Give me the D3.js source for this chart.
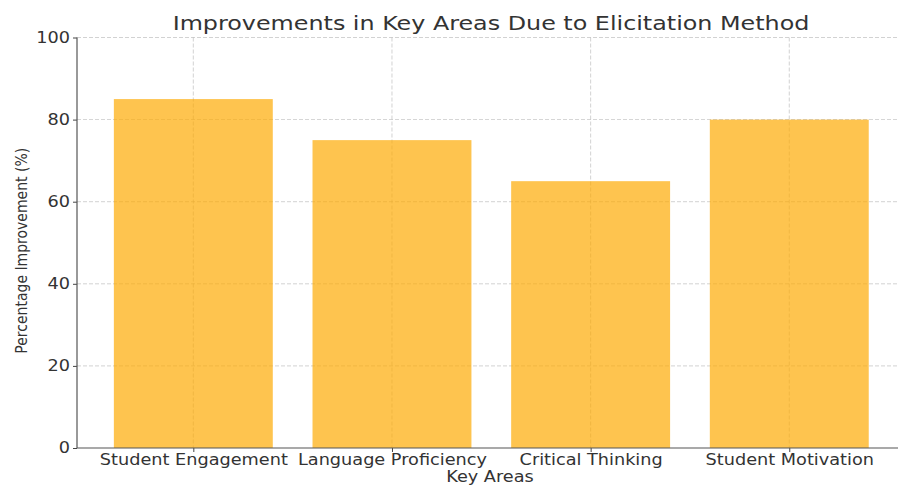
<!DOCTYPE html>
<html><head><meta charset="utf-8">
<script src="https://cdn.jsdelivr.net/npm/d3@7"></script>
<style>body{margin:0;background:#fff}svg{display:block}text{font-family:"DejaVu Sans",sans-serif}</style>
</head><body><svg id="c" width="898" height="486"></svg>
<script>
const categories = ["Student Engagement","Language Proficiency","Critical Thinking","Student Motivation"];
const improvements = [85, 75, 65, 80];
const yTicks = [0, 20, 40, 60, 80, 100];

const svg = d3.select("#c");
const W = 898, H = 486;
const axisLeft = 77, plotBottom = 448, plotTop = 37.5;
const x = d3.scaleLinear().domain([-0.5, 3.5]).range([94, 888.6]);
const y = d3.scaleLinear().domain([0, 100]).range([plotBottom, plotTop]);
const sx = 1.18; // horizontal stretch of text

// grid
const g = svg.append("g");
g.selectAll("line.h").data(yTicks.slice(1)).join("line")
  .attr("x1", axisLeft).attr("x2", W).attr("y1", d => y(d)).attr("y2", d => y(d))
  .attr("stroke", "#b0b0b0").attr("stroke-width", 0.8).attr("stroke-dasharray", "4,2").attr("opacity", 0.7);
g.selectAll("line.v").data(categories).join("line")
  .attr("x1", (d,i) => x(i)).attr("x2", (d,i) => x(i)).attr("y1", plotTop).attr("y2", plotBottom)
  .attr("stroke", "#b0b0b0").attr("stroke-width", 0.8).attr("stroke-dasharray", "4,2").attr("opacity", 0.7);

// bars
svg.selectAll("rect.bar").data(improvements).join("rect")
  .attr("x", (d,i) => x(i - 0.4)).attr("width", (d,i) => x(i + 0.4) - x(i - 0.4))
  .attr("y", d => y(d)).attr("height", d => plotBottom - y(d))
  .attr("fill", "#FDAB04").attr("fill-opacity", 0.7);

// axes
const ax = svg.append("g").attr("transform", `translate(0,${plotBottom})`)
  .call(d3.axisBottom(x).tickValues(d3.range(categories.length)).tickFormat(i => categories[i]).tickSize(4).tickPadding(2.5));
ax.select(".domain").remove();
ax.selectAll("line").attr("stroke", "#444");
ax.selectAll(".tick text").attr("font-size", 15).attr("fill", "#333").attr("transform", `scale(${sx},1)`);
svg.append("line").attr("x1", axisLeft).attr("x2", W).attr("y1", plotBottom).attr("y2", plotBottom).attr("stroke", "#555").attr("stroke-width", 1.2);

const ay = svg.append("g").attr("transform", `translate(${axisLeft},0)`)
  .call(d3.axisLeft(y).tickValues(yTicks).tickSize(4).tickPadding(4));
ay.select(".domain").remove();
ay.selectAll("line").attr("stroke", "#444");
ay.selectAll(".tick text").attr("font-size", 15).attr("fill", "#333")
  .attr("transform", `scale(${sx},1)`).attr("x", -7 / sx);
svg.append("line").attr("x1", axisLeft).attr("x2", axisLeft).attr("y1", plotTop).attr("y2", plotBottom).attr("stroke", "#555").attr("stroke-width", 1.2);

// title
svg.append("text").attr("x", 491 / sx).attr("y", 30.5).attr("transform", `scale(${sx},1)`)
  .attr("text-anchor", "middle").attr("font-size", 20.2).attr("fill", "#333")
  .text("Improvements in Key Areas Due to Elicitation Method");
// x label
svg.append("text").attr("x", 490 / sx).attr("y", 482).attr("transform", `scale(${sx},1)`)
  .attr("text-anchor", "middle").attr("font-size", 15).attr("fill", "#333").text("Key Areas");
// y label
svg.append("text").attr("transform", `translate(27,${(plotTop+plotBottom)/2 + 8}) scale(${sx},1) rotate(-90)`)
  .attr("text-anchor", "middle").attr("font-size", 14).attr("fill", "#333").text("Percentage Improvement (%)");
</script></body></html>
